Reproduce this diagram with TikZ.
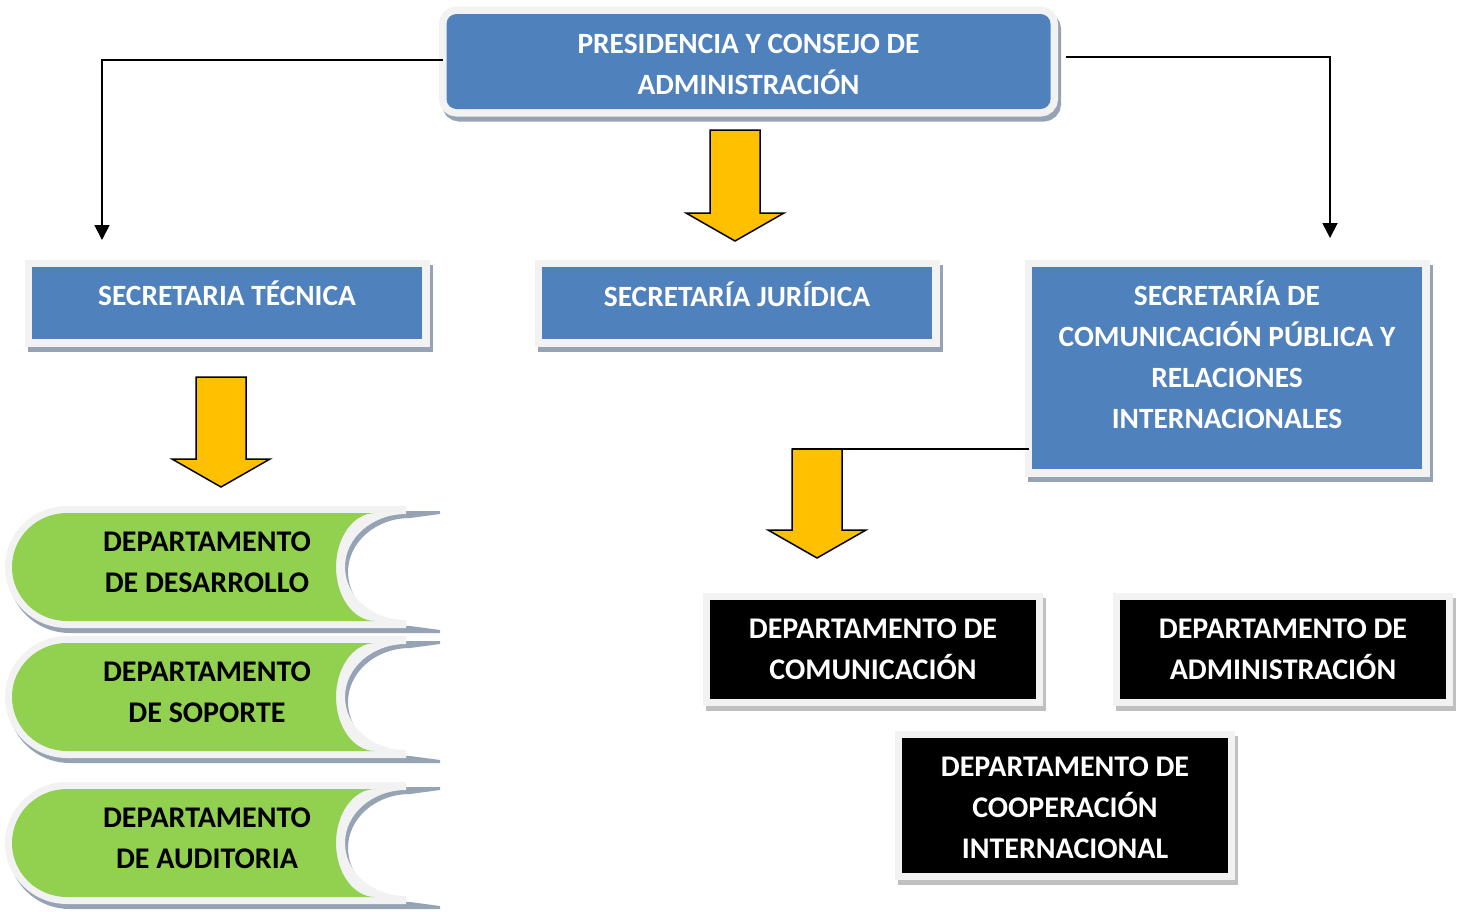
\documentclass[tikz,border=0pt]{standalone}
\usepackage{fontspec}
\setmainfont{Carlito}
\usetikzlibrary{arrows.meta}
\definecolor{bluec}{HTML}{4F81BD}
\definecolor{frameg}{HTML}{F2F2F2}
\definecolor{shadowb}{HTML}{95A3B5}
\definecolor{shadowk}{HTML}{C0C0C0}
\definecolor{greenc}{HTML}{92D050}
\definecolor{yellowc}{HTML}{FFC000}
% stored-data shape: style, left x, left radius, tip x, inner tip x, step, concave x, top y, bottom y
\newcommand\sdshape[9]{%
  \pgfmathsetmacro\sdT{#8}%
  \pgfmathsetmacro\sdB{#9}%
  \pgfmathsetmacro\sdM{(\sdT+\sdB)/2}%
  \pgfmathsetmacro\sdK{0.5523*(\sdB-\sdT)/2}%
  \pgfmathsetmacro\sdA{(#2)+(#3)}%
  \pgfmathsetmacro\sdAc{(#2)+(#3)-0.5523*(#3)}%
  \pgfmathsetmacro\sdE{((#4)-(#5))/10}%
  \pgfmathsetmacro\sdTs{\sdT+(#6)}%
  \pgfmathsetmacro\sdBs{\sdB-(#6)}%
  \pgfmathsetmacro\sdKc{0.5523*(\sdBs-\sdTs)/2}%
  \pgfmathsetmacro\sdTc{(#5)-0.5523*((#5)-(#7))}%
  \path[#1] (\sdA,\sdT) -- (#4,\sdT) -- (#4,{\sdT+\sdE}) -- (#5,\sdTs)
    .. controls (\sdTc,\sdTs) and (#7,{\sdM-\sdKc}) .. (#7,\sdM)
    .. controls (#7,{\sdM+\sdKc}) and (\sdTc,\sdBs) .. (#5,\sdBs)
    -- (#4,{\sdB-\sdE}) -- (#4,\sdB) -- (\sdA,\sdB)
    .. controls (\sdAc,\sdB) and (#2,{\sdM+\sdK}) .. (#2,\sdM)
    .. controls (#2,{\sdM-\sdK}) and (\sdAc,\sdT) .. (\sdA,\sdT) -- cycle;
}
% green department: mid y, node name, text
\newcommand\greenunit[3]{%
  \sdshape{fill=shadowb}{8}{62}{440}{410}{7}{348}{#1-56}{#1+66}
  \sdshape{fill=frameg}{5}{62}{406}{406}{8}{345}{#1-61}{#1+61}
  \sdshape{fill=greenc}{12}{55}{375}{375}{0}{336}{#1-54}{#1+54}
  \node[ktxt] (#2) at (207,{#1-4.5}) {#3};
}
% yellow block arrow: centre x, top y, tip y
\newcommand\blockarrow[3]{%
  \draw[bigarrow] ({#1-25},#2) -- ({#1+25},#2) -- ({#1+25},{#3-28}) -- ({#1+49},{#3-28})
    -- (#1,#3) -- ({#1-49},{#3-28}) -- ({#1-25},{#3-28}) -- cycle;
}
\begin{document}
\begin{tikzpicture}[x=1pt,y=-1pt,
  box/.style={rectangle, inner sep=0pt, outer sep=0pt},
  bluebox/.style={box, fill=bluec,
    preaction={fill=shadowb, draw=shadowb, line width=15pt, transform canvas={shift={(3pt,-5pt)}}},
    preaction={fill=frameg, draw=frameg, line width=15pt}},
  blackbox/.style={box, fill=black,
    preaction={fill=shadowk, draw=shadowk, line width=14pt, transform canvas={shift={(3pt,-5pt)}}},
    preaction={fill=frameg, draw=frameg, line width=14pt}},
  wtxt/.style={text=white, align=center, inner sep=0pt, font=\fontsize{30}{41}\selectfont\bfseries},
  btxt/.style={wtxt, font=\fontsize{29.4}{41}\selectfont\bfseries},
  ktxt/.style={wtxt, text=black},
  conn/.style={draw=black, line width=1.8pt, -{Triangle[length=15pt,width=15pt]}},
  thinconn/.style={draw=black, line width=1.3pt},
  bigarrow/.style={fill=yellowc, draw=black, line width=1.5pt, line join=miter}]
\useasboundingbox (0,0) rectangle (1463,911);

% boxes
\node[bluebox, rounded corners=10pt, minimum width=604pt, minimum height=95pt] (top) at (748.5,61.5) {};
\node[btxt] (top-t) at (748.5,64.5) {PRESIDENCIA Y CONSEJO DE\\ADMINISTRACIÓN};

\node[bluebox, minimum width=390pt, minimum height=72pt] (stec) at (227,303) {};
\node[btxt] (stec-t) at (227,293.4) {SECRETARIA TÉCNICA};

\node[bluebox, minimum width=390pt, minimum height=72pt] (sjur) at (737,303) {};
\node[btxt] (sjur-t) at (737,294) {SECRETARÍA JURÍDICA};

\node[bluebox, minimum width=390pt, minimum height=202pt] (scom) at (1227,368) {};
\node[btxt] (scom-t) at (1227,354.9) {SECRETARÍA DE\\COMUNICACIÓN PÚBLICA Y\\RELACIONES\\INTERNACIONALES};

\node[blackbox, minimum width=326pt, minimum height=99pt] (dcom) at (873,649.5) {};
\node[wtxt] (dcom-t) at (873,649.5) {DEPARTAMENTO DE\\COMUNICACIÓN};

\node[blackbox, minimum width=326pt, minimum height=99pt] (dadm) at (1283,649.5) {};
\node[wtxt] (dadm-t) at (1283,649.5) {DEPARTAMENTO DE\\ADMINISTRACIÓN};

\node[blackbox, minimum width=326pt, minimum height=135pt] (dcoop) at (1065,805.5) {};
\node[wtxt] (dcoop-t) at (1065,808) {DEPARTAMENTO DE\\COOPERACIÓN\\INTERNACIONAL};

% green departments
\greenunit{567}{ddes}{DEPARTAMENTO\\DE DESARROLLO}
\greenunit{697}{dsop}{DEPARTAMENTO\\DE SOPORTE}
\greenunit{843}{daud}{DEPARTAMENTO\\DE AUDITORIA}

% yellow block arrows
\blockarrow{735}{130}{241}
\blockarrow{221}{377}{487}
\blockarrow{817}{449}{558}

% connectors
\coordinate (a1) at (102,240);
\coordinate (a2) at (1330,238);
\coordinate (a3) at (792,449);
\draw[conn] ([xshift=-4pt,yshift=1.5pt]top.west) -| (a1);
\draw[conn] ([xshift=15pt,yshift=4.5pt]top.east) -| (a2);
\draw[thinconn] ([xshift=-3pt]scom.west |- a3) -- (a3);
\end{tikzpicture}
\end{document}
